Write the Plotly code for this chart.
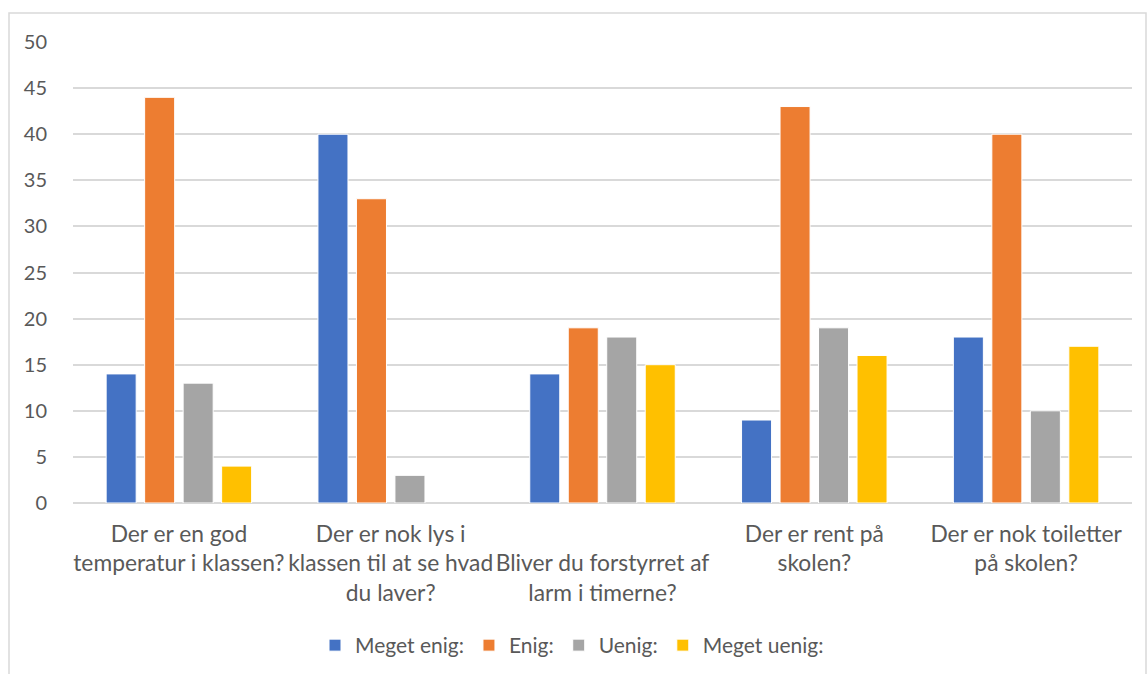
import plotly.graph_objects as go

categories = [
    "Der er en god<br>temperatur i klassen?",
    "Der er nok lys i<br>klassen til at se hvad<br>du laver?",
    " <br>Bliver du forstyrret af<br>larm i timerne?",
    "Der er rent på<br>skolen?",
    "Der er nok toiletter<br>på skolen?",
]
series_names = ["Meget enig:", "Enig:", "Uenig:", "Meget uenig:"]
meget_enig = [14, 40, 14, 9, 18]
enig = [44, 33, 19, 43, 40]
uenig = [13, 3, 18, 19, 10]
meget_uenig = [4, None, 15, 16, 17]
colors = ["#4472C4", "#ED7D31", "#A5A5A5", "#FFC000"]
y_ticks = [0, 5, 10, 15, 20, 25, 30, 35, 40, 45, 50]

FONT = "Lato, Carlito, 'Liberation Sans', sans-serif"
fig = go.Figure()
for name, vals, col in zip(series_names, [meget_enig, enig, uenig, meget_uenig], colors):
    fig.add_trace(go.Bar(
        x=categories, y=vals, name=name,
        marker=dict(color=col, line=dict(color="white", width=1)),
    ))

W, H = 1147, 674
L, R, T = 73, 15, 42
B = H - 503
pw, ph = W - L - R, H - T - B

fig.update_layout(
    width=W, height=H,
    margin=dict(l=L, r=R, t=T, b=B),
    paper_bgcolor="white", plot_bgcolor="white",
    barmode="group", bargap=0.273, bargroupgap=0.22,
    font=dict(family=FONT, size=20, color="#595959"),
    showlegend=True,
    legend=dict(orientation="h", xref="container", yref="container",
                x=572 / W, xanchor="center", y=(H - 645.5) / H, yanchor="middle",
                font=dict(size=21, color="#595959"), itemwidth=30, traceorder="normal"),
    xaxis=dict(showgrid=False, showline=False, ticks="", tickfont=dict(size=22.8, color="#595959"),
               tickangle=0, automargin=False, ticklabelstandoff=15),
    yaxis=dict(range=[0, 50], tickvals=y_ticks, showgrid=True, gridcolor="#D9D9D9", gridwidth=1.5,
               zeroline=True, zerolinecolor="#D9D9D9", zerolinewidth=1.5, showline=False,
               tickfont=dict(size=20, color="#595959"), ticklabelstandoff=25, automargin=False),
    shapes=[dict(type="rect", xref="paper", yref="paper",
                 x0=(9 - L) / pw, x1=(1146 - L) / pw,
                 y0=(503 - 690) / ph, y1=(503 - 13) / ph,
                 line=dict(color="#D9D9D9", width=1.5), fillcolor="rgba(0,0,0,0)", layer="below")],
)

fig.write_html("out.html", config={"displayModeBar": False},
               post_script="document.body.style.margin='0';document.body.style.overflow='hidden';")
